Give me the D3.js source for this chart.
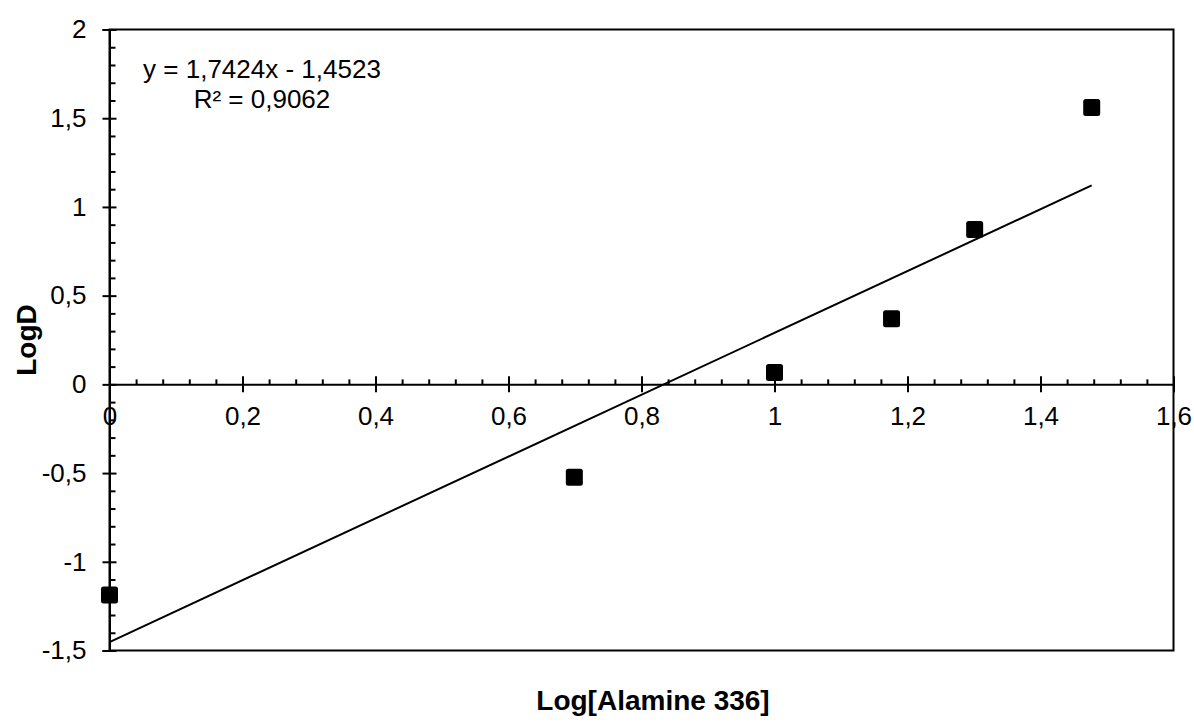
<!DOCTYPE html>
<html>
<head>
<meta charset="utf-8">
<script src="https://cdn.jsdelivr.net/npm/d3@7"></script>
<style>
  html, body { margin: 0; padding: 0; background: #fff; }
  svg { display: block; font-family: "Liberation Sans", Arial, sans-serif; }
</style>
</head>
<body>
<svg id="chart" width="1194" height="726"></svg>
<script>
// Distribution data: log of extractant concentration vs log of distribution ratio
const logConcentration = [0, 0.699, 1, 1.176, 1.301, 1.477];
const logD = [-1.187, -0.523, 0.067, 0.37, 0.873, 1.56];

// Linear trendline coefficients (shown in the label)
const trendSlope = 1.7424;
const trendIntercept = -1.4523;
const trendR2 = 0.9062;

// Axis ticks
const xMajorTicks = [0, 0.2, 0.4, 0.6, 0.8, 1, 1.2, 1.4, 1.6];
const yMajorTicks = [-1.5, -1, -0.5, 0, 0.5, 1, 1.5, 2];
const xMinorStep = 0.04;
const yMinorStep = 0.1;

const xTitle = "Log[Alamine 336]";
const yTitle = "LogD";

const locale = d3.formatLocale({ decimal: ",", thousands: ".", grouping: [3], currency: ["", ""], minus: "-" });
const fmtTick = locale.format("~g");
const fmt4 = locale.format(".4f");

const svg = d3.select("#chart");
const plot = { left: 109.5, right: 1173.5, top: 29.5, bottom: 650.5 };

const x = d3.scaleLinear().domain([0, 1.6]).range([plot.left, plot.right]);
const y = d3.scaleLinear().domain([-1.5, 2]).range([plot.bottom, plot.top]);

const xMinor = d3.range(0, 1.6 + 1e-9, xMinorStep).filter(v => !xMajorTicks.some(t => Math.abs(t - v) < 1e-6));
const yMinor = d3.range(-1.5, 2 + 1e-9, yMinorStep).filter(v => !yMajorTicks.some(t => Math.abs(t - v) < 1e-6));

// Plot frame
svg.append("rect")
  .attr("x", plot.left).attr("y", plot.top)
  .attr("width", plot.right - plot.left).attr("height", plot.bottom - plot.top)
  .attr("fill", "none").attr("stroke", "#000").attr("stroke-width", 2);

const fontTick = 26;

// Y axis: labels with outside ticks, plus inside halves and minor ticks
const yAxisOut = svg.append("g")
  .attr("transform", `translate(${plot.left},0)`)
  .call(d3.axisLeft(y).tickValues(yMajorTicks).tickSize(7).tickPadding(16).tickFormat(fmtTick));
const yAxisIn = svg.append("g")
  .attr("transform", `translate(${plot.left},0)`)
  .call(d3.axisRight(y).tickValues(yMajorTicks).tickSize(7).tickFormat(""));
const yAxisMinor = svg.append("g")
  .attr("transform", `translate(${plot.left},0)`)
  .call(d3.axisRight(y).tickValues(yMinor).tickSize(6).tickFormat(""));

// X axis at y = 0: labels below with crossing major ticks, minor ticks above
const y0 = y(0);
const xAxisOut = svg.append("g")
  .attr("transform", `translate(0,${y0})`)
  .call(d3.axisBottom(x).tickValues(xMajorTicks).tickSize(8).tickPadding(14).tickFormat(fmtTick));
const xAxisIn = svg.append("g")
  .attr("transform", `translate(0,${y0})`)
  .call(d3.axisTop(x).tickValues(xMajorTicks).tickSize(8).tickFormat(""));
const xAxisMinor = svg.append("g")
  .attr("transform", `translate(0,${y0})`)
  .call(d3.axisTop(x).tickValues(xMinor).tickSize(5).tickFormat(""));

[yAxisOut, yAxisIn, yAxisMinor, xAxisOut, xAxisIn, xAxisMinor].forEach(g => {
  g.selectAll(".domain").attr("stroke", "#000").attr("stroke-width", 2);
  g.selectAll(".tick line").attr("stroke", "#000").attr("stroke-width", 2);
  g.selectAll(".tick text")
    .attr("fill", "#000")
    .style("font-family", '"Liberation Sans", Arial, sans-serif')
    .style("font-size", fontTick + "px");
});
[yAxisIn, yAxisMinor, xAxisIn, xAxisMinor].forEach(g => g.select(".domain").remove());

// Trendline from the fitted equation, over the data range
const xExtent = d3.extent(logConcentration);
svg.append("line")
  .attr("x1", x(xExtent[0])).attr("y1", y(trendSlope * xExtent[0] + trendIntercept))
  .attr("x2", x(xExtent[1])).attr("y2", y(trendSlope * xExtent[1] + trendIntercept))
  .attr("stroke", "#000").attr("stroke-width", 2);

// Data markers
const ms = 17;
svg.append("g").selectAll("rect")
  .data(logConcentration.map((v, i) => [v, logD[i]]))
  .join("rect")
  .attr("x", d => x(d[0]) - ms / 2)
  .attr("y", d => y(d[1]) - ms / 2)
  .attr("width", ms).attr("height", ms)
  .attr("rx", 2.5)
  .attr("fill", "#000");

// Trendline equation
const eq = svg.append("text")
  .attr("text-anchor", "middle")
  .style("font-size", "26px").attr("fill", "#000");
eq.append("tspan").attr("x", 262).attr("y", 78)
  .text(`y = ${fmt4(trendSlope)}x - ${fmt4(Math.abs(trendIntercept))}`);
eq.append("tspan").attr("x", 262).attr("y", 108)
  .text(`R² = ${fmt4(trendR2)}`);

// Axis titles
svg.append("text")
  .attr("x", 653).attr("y", 710)
  .attr("text-anchor", "middle")
  .style("font-size", "28px").style("font-weight", "bold")
  .text(xTitle);

svg.append("text")
  .attr("transform", `translate(36,340) rotate(-90)`)
  .attr("text-anchor", "middle")
  .style("font-size", "28px").style("font-weight", "bold")
  .text(yTitle);
</script>
</body>
</html>
